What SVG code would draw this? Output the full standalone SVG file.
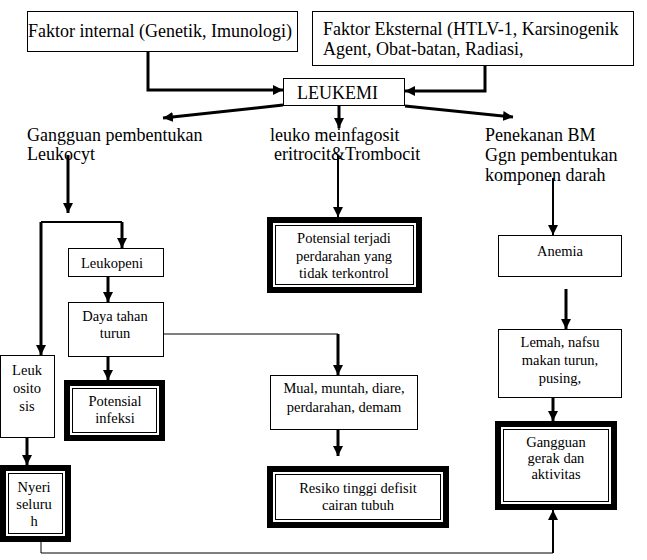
<svg xmlns="http://www.w3.org/2000/svg" width="647" height="560" viewBox="0 0 647 560" font-family="'Liberation Serif', 'Times New Roman', Tinos, 'Nimbus Roman', 'DejaVu Serif', serif">
<defs>
<marker id="ah" viewBox="0 0 10 10" refX="10" refY="5" markerWidth="10" markerHeight="10" markerUnits="userSpaceOnUse" orient="auto">
<path d="M0,0 L10,5 L0,10 z" fill="#000"/>
</marker>
<style>
text{font-family:'Liberation Serif','Times New Roman',Tinos,'Nimbus Roman','DejaVu Serif',serif}
.big{font-size:18px;fill:#000}
.sm{font-size:14.5px;fill:#000;text-anchor:middle}
.box{fill:#fff;stroke:#000;stroke-width:1}
.tk{fill:#fff;stroke:#000;stroke-width:6}
.tn{fill:none;stroke:#000;stroke-width:1}
.c3{fill:none;stroke:#000;stroke-width:3}
.c2{fill:none;stroke:#000;stroke-width:2}
.c1{fill:none;stroke:#000;stroke-width:1}
.arr{marker-end:url(#ah)}
</style>
</defs>
<rect width="647" height="560" fill="#fff"/>

<g id="connectors">
<path class="c3 arr" d="M148,51 V90 H283"/>
<path class="c3 arr" d="M485,65 V91 H405"/>
<path class="c3 arr" d="M283,105 L163,118"/>
<path class="c3 arr" d="M339,106 V128"/>
<path class="c3 arr" d="M405,106 L513,117"/>
<path class="c3 arr" d="M68,155 V213"/>
<path class="c2" d="M41,222 H122"/>
<path class="c3 arr" d="M122,222 V248"/>
<path class="c3 arr" d="M41,222 V355"/>
<path class="c3 arr" d="M108,276 V302"/>
<path class="c3 arr" d="M108,356 V380"/>
<path class="c1" d="M163,334 H338"/>
<path class="c3 arr" d="M338,334 V375"/>
<path class="c2 arr" d="M338,155 V217"/>
<path class="c3 arr" d="M27,437 V465"/>
<path class="c3 arr" d="M338,429 V456"/>
<path class="c2 arr" d="M553,178 V235"/>
<path class="c3 arr" d="M566,289 V329"/>
<path class="c3 arr" d="M553,397 V421"/>
<path class="c1" d="M41,542 V553 H553"/>
<path class="c2 arr" d="M553,553 V510"/>
</g>

<g id="faktor-internal">
<rect class="box" x="27.5" y="11.5" width="270" height="40"/>
<text class="big" x="28" y="37">Faktor internal (Genetik, Imunologi)</text>
</g>

<g id="faktor-eksternal">
<rect class="box" x="312.5" y="11.5" width="321" height="54"/>
<text class="big" x="323" y="35">Faktor Eksternal (HTLV-1, Karsinogenik</text>
<text class="big" x="323" y="55">Agent, Obat-batan, Radiasi,</text>
</g>

<g id="leukemi">
<rect class="box" x="283.5" y="78.5" width="121" height="27"/>
<text class="big" x="297" y="99">LEUKEMI</text>
</g>

<g id="gangguan-pembentukan">
<text class="big" x="27" y="141">Gangguan pembentukan</text>
<text class="big" x="27" y="160">Leukocyt</text>
</g>

<g id="leuko-memfagosit">
<text class="big" x="270" y="141">leuko meinfagosit</text>
<text class="big" x="274" y="160">eritrocit&amp;Trombocit</text>
</g>

<g id="penekanan-bm">
<text class="big" x="485" y="141">Penekanan BM</text>
<text class="big" x="485" y="161">Ggn pembentukan</text>
<text class="big" x="485" y="181">komponen darah</text>
</g>

<g id="potensial-perdarahan">
<rect class="tk" x="270" y="220" width="149" height="70"/>
<rect class="tn" x="275.5" y="225.5" width="138" height="59"/>
<text class="sm" x="344" y="243">Potensial terjadi</text>
<text class="sm" x="344" y="261">perdarahan yang</text>
<text class="sm" x="344" y="278">tidak terkontrol</text>
</g>

<g id="anemia">
<rect class="box" x="498.5" y="235.5" width="123" height="41"/>
<text class="sm" x="560" y="256">Anemia</text>
</g>

<g id="leukopeni">
<rect class="box" x="68.5" y="248.5" width="95" height="28"/>
<text class="sm" x="112" y="268">Leukopeni</text>
</g>

<g id="daya-tahan">
<rect class="box" x="68.5" y="302.5" width="95" height="54"/>
<text class="sm" x="115" y="321">Daya tahan</text>
<text class="sm" x="115" y="338">turun</text>
</g>

<g id="leukositosis">
<rect class="box" x="0.5" y="355.5" width="54" height="82"/>
<text class="sm" x="27" y="375">Leuk</text>
<text class="sm" x="27" y="393">osito</text>
<text class="sm" x="27" y="411">sis</text>
</g>

<g id="potensial-infeksi">
<rect class="tk" x="67" y="383" width="95" height="55"/>
<rect class="tn" x="72.5" y="388.5" width="84" height="44"/>
<text class="sm" x="115" y="406">Potensial</text>
<text class="sm" x="115" y="423">infeksi</text>
</g>

<g id="nyeri">
<rect class="tk" x="3" y="468" width="65" height="71"/>
<rect class="tn" x="8.5" y="473.5" width="54" height="60"/>
<text class="sm" x="34" y="492">Nyeri</text>
<text class="sm" x="34" y="509">seluru</text>
<text class="sm" x="34" y="526">h</text>
</g>

<g id="mual">
<rect class="box" x="270.5" y="375.5" width="147" height="54"/>
<text class="sm" x="344" y="393">Mual, muntah, diare,</text>
<text class="sm" x="344" y="412">perdarahan, demam</text>
</g>

<g id="resiko">
<rect class="tk" x="270" y="469" width="176" height="56"/>
<rect class="tn" x="275.5" y="474.5" width="165" height="45"/>
<text class="sm" x="358" y="493">Resiko tinggi defisit</text>
<text class="sm" x="358" y="510">cairan tubuh</text>
</g>

<g id="lemah">
<rect class="box" x="498.5" y="329.5" width="123" height="68"/>
<text class="sm" x="560" y="347">Lemah, nafsu</text>
<text class="sm" x="560" y="365">makan turun,</text>
<text class="sm" x="560" y="383">pusing,</text>
</g>

<g id="gangguan-gerak">
<rect class="tk" x="498" y="424" width="116" height="83"/>
<rect class="tn" x="503.5" y="429.5" width="105" height="72"/>
<text class="sm" x="556" y="447">Gangguan</text>
<text class="sm" x="556" y="463">gerak dan</text>
<text class="sm" x="556" y="479">aktivitas</text>
</g>
</svg>
